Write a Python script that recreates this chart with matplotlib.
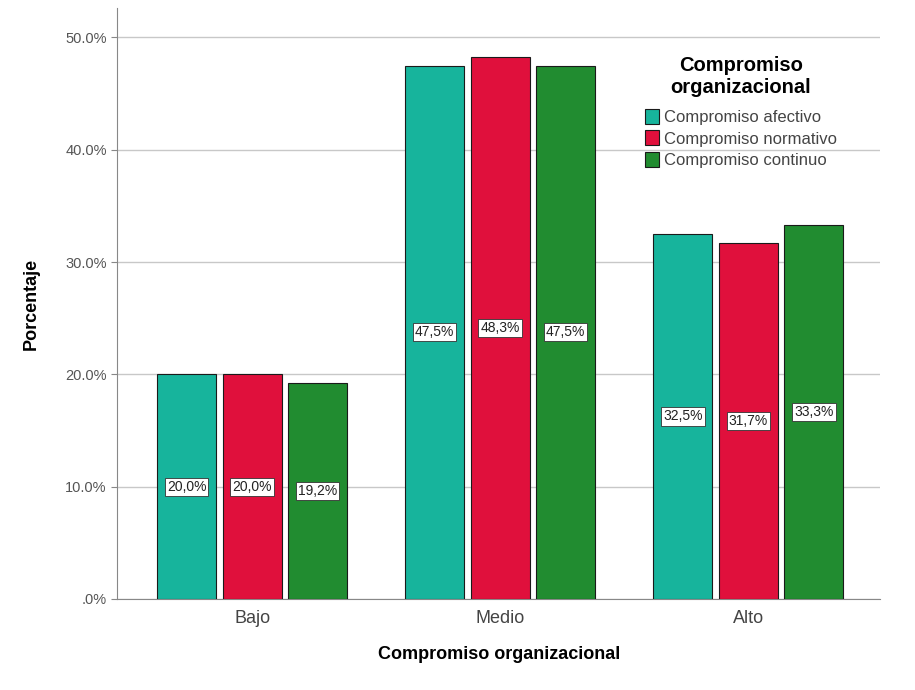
import matplotlib
matplotlib.use("Agg")
from matplotlib import pyplot as plt, patches as pa
import numpy as np

# Data
categories = ["Bajo", "Medio", "Alto"]
series = ["Compromiso afectivo", "Compromiso normativo", "Compromiso continuo"]
afectivo = [20.0, 47.5, 32.5]
normativo = [20.0, 48.3, 31.7]
continuo = [19.2, 47.5, 33.3]
yticks = [0, 10, 20, 30, 40, 50]
ytick_labels = [".0%", "10.0%", "20.0%", "30.0%", "40.0%", "50.0%"]

colors = ["#17b49c", "#e0103c", "#218c30"]

plt.rcParams["font.family"] = ["Liberation Sans", "DejaVu Sans"]

fig = plt.figure(figsize=(9.15, 6.9), dpi=100)
ax = fig.add_axes([0.128, 0.132, 0.834, 0.856])

x = np.arange(len(categories))
width = 0.238
step = 0.264
for i, (name, vals) in enumerate(zip(series, [afectivo, normativo, continuo])):
    pos = x + (i - 1) * step
    ax.bar(pos, vals, width, color=colors[i], edgecolor="#1a1a1a", linewidth=0.8,
           label=name, zorder=3)
    for p, v in zip(pos, vals):
        ax.text(p, v / 2, f"{v:.1f}%".replace(".", ","), ha="center", va="center",
                fontsize=10, color="#222222", zorder=4,
                bbox=dict(boxstyle="square,pad=0.15", facecolor="white",
                          edgecolor="#333333", linewidth=0.6))

ax.set_xlim(-0.544, 2.532)
ax.set_ylim(0, 52.6)
ax.set_yticks(yticks)
ax.set_yticklabels(ytick_labels)
ax.set_xticks(x)
ax.set_xticklabels(categories)
ax.tick_params(axis="y", labelsize=10.5, labelcolor="#555555", length=4, color="#888888")
ax.tick_params(axis="x", labelsize=13, labelcolor="#444444", length=0, pad=8)

ax.grid(axis="y", color="#c8c8c8", linewidth=1)
ax.set_axisbelow(True)
ax.spines["top"].set_visible(False)
ax.spines["right"].set_visible(False)
ax.spines["left"].set_color("#888888")
ax.spines["bottom"].set_color("#888888")

ax.set_ylabel("Porcentaje", fontsize=13, fontweight="bold", labelpad=18)
ax.set_xlabel("Compromiso organizacional", fontsize=13, fontweight="bold", labelpad=14)

legend = ax.legend(title="Compromiso\norganizacional", loc="upper left",
                   bbox_to_anchor=(0.672, 0.945), frameon=False, fontsize=12,
                   handlelength=0.85, handleheight=1.0, handletextpad=0.3,
                   labelspacing=0.3, labelcolor="#444444")
legend.get_title().set_fontweight("bold")
legend.get_title().set_fontsize(14.5)
legend.get_title().set_multialignment("center")
legend._legend_box.align = "center"
legend._legend_box.sep = 9

fig.savefig("out.png", dpi=100)
